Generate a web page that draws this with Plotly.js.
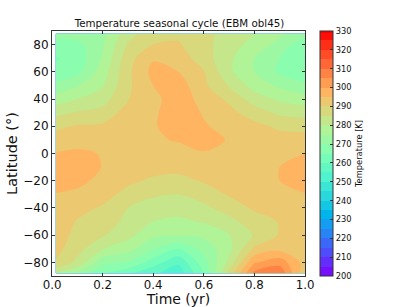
<!DOCTYPE html>
<html><head><meta charset="utf-8">
<script src="https://cdn.plot.ly/plotly-3.0.1.min.js"></script>
<style>html,body{margin:0;padding:0;background:#fff}</style></head>
<body><div id="c" style="width:409px;height:307px"></div>
<script>
const times=[0.015,0.1,0.2,0.3,0.4,0.5,0.6,0.7,0.8,0.9,1.0];
const lats=[88,80,70,60,50,40,30,20,10,0,-10,-20,-30,-40,-50,-60,-70,-80,-88];
const t00=[271,268.5,264.5,266.5,271,277.5,283.5,289,292,295.2,297.5,297,294.8,293.5,292.5,292.5,291.5,289.5,280];
const t01=[273,268.5,267,268.5,274.5,280,285.5,290.5,293,296,298,296.5,293.8,291.3,289.7,288.5,287,283.5,275];
const t02=[273.5,274.5,275.5,277.5,279.5,283,286.5,291,293,294.7,294.8,293.5,291.8,289.5,288,285.5,280.2,271.5,265];
const t03=[283,285.5,288,288.8,289,289.7,292.5,294,294.7,294.3,292.7,291,288.5,285,283.5,281.5,277,269.5,261];
const t04=[288,290,294.5,296.5,295,293.5,294,294.4,294.5,293.6,291.7,289.2,285.7,282.8,280,276,270.5,262.5,256];
const t05=[289,290.5,292.5,295,297.5,298,298.5,298,295.3,293.5,291.5,288.5,285,282,279,275.5,265,256,252];
const t06=[286.5,286.5,287.5,290.3,291,293,294.5,295.6,296.5,294.7,292.7,290.5,287,284,280.5,276,272,268,265];
const t07=[283,282.5,281,281,284.5,289,291.5,293,294.7,294,293,291.5,290.5,287,283.5,279.8,278.5,281.5,287];
const t08=[280,278,275,275,278,282.5,287.5,291.5,293,294,294,293.5,292.5,290.8,287.5,285.5,291,299.5,306.5];
const t09=[276,273.5,270,269,274,279,284,289,292,294,295,295,293.7,292.3,290.3,290.5,293.5,303,309];
const t10=[272,266,264.8,266.5,270.7,277,283,288.5,292,295,297.5,297,294.8,293.5,292.5,292.5,294,293,291];
const cols=[t00,t01,t02,t03,t04,t05,t06,t07,t08,t09,t10];
const z=lats.map((_,i)=>cols.map(c=>c[i]));
const rainbow=[[0,'rgb(128,0,255)'],[0.1,'rgb(77,79,252)'],[0.2,'rgb(26,150,243)'],[0.25,'rgb(0,180,236)'],[0.3,'rgb(26,206,227)'],[0.4,'rgb(77,243,206)'],[0.5,'rgb(128,255,180)'],[0.6,'rgb(179,243,150)'],[0.7,'rgb(230,206,116)'],[0.75,'rgb(255,180,98)'],[0.8,'rgb(255,150,79)'],[0.9,'rgb(255,79,40)'],[1,'rgb(255,0,0)']];
const font='"DejaVu Sans",sans-serif';
const dark='#333';
Plotly.newPlot('c',[{type:'contour',x:times,y:lats,z:z,colorscale:rainbow,zmin:200,zmax:330,
 autocontour:false,contours:{start:200,end:330,size:5,coloring:'fill',showlines:false},
 line:{width:0,smoothing:0.9},
 colorbar:{x:1.059,xanchor:'left',xpad:0,ypad:0,y:0,yanchor:'bottom',len:1,thickness:13,outlinecolor:dark,outlinewidth:1,
  tickmode:'array',tickvals:[200,210,220,230,240,250,260,270,280,290,300,310,320,330],ticks:'inside',ticklen:3,tickcolor:dark,
  tickfont:{family:font,size:8.3,color:'#111'},
  title:{text:'Temperature [K]',side:'right',font:{family:font,size:8.3,color:'#111'}}}}],
 {width:409,height:307,margin:{l:52,r:104,t:31,b:31},paper_bgcolor:'#fff',plot_bgcolor:'#fff',showlegend:false,
  title:{text:'Temperature seasonal cycle (EBM obl45)',font:{family:font,size:10.3,color:'#111'},x:179.5/409,xanchor:'center',y:1-23.5/307,yanchor:'middle'},
  xaxis:{range:[0,1],tickvals:[0,0.2,0.4,0.6,0.8,1],ticktext:['0.0','0.2','0.4','0.6','0.8','1.0'],ticks:'inside',ticklen:3,tickcolor:dark,showline:true,mirror:'ticks',linecolor:dark,linewidth:1,showgrid:false,zeroline:false,ticklabelstandoff:-2,
   tickfont:{family:font,size:11.8,color:'#111'},title:{text:'Time (yr)',font:{family:font,size:14,color:'#111'},standoff:7}},
  yaxis:{range:[-90,90],tickvals:[-80,-60,-40,-20,0,20,40,60,80],ticks:'inside',ticklen:3,tickcolor:dark,showline:true,mirror:'ticks',linecolor:dark,linewidth:1,showgrid:false,zeroline:false,
   tickfont:{family:font,size:12,color:'#111'},title:{text:'Latitude (°)',font:{family:font,size:14.5,color:'#111'},standoff:2}}
 },{displayModeBar:false,staticPlot:true});
</script></body></html>
